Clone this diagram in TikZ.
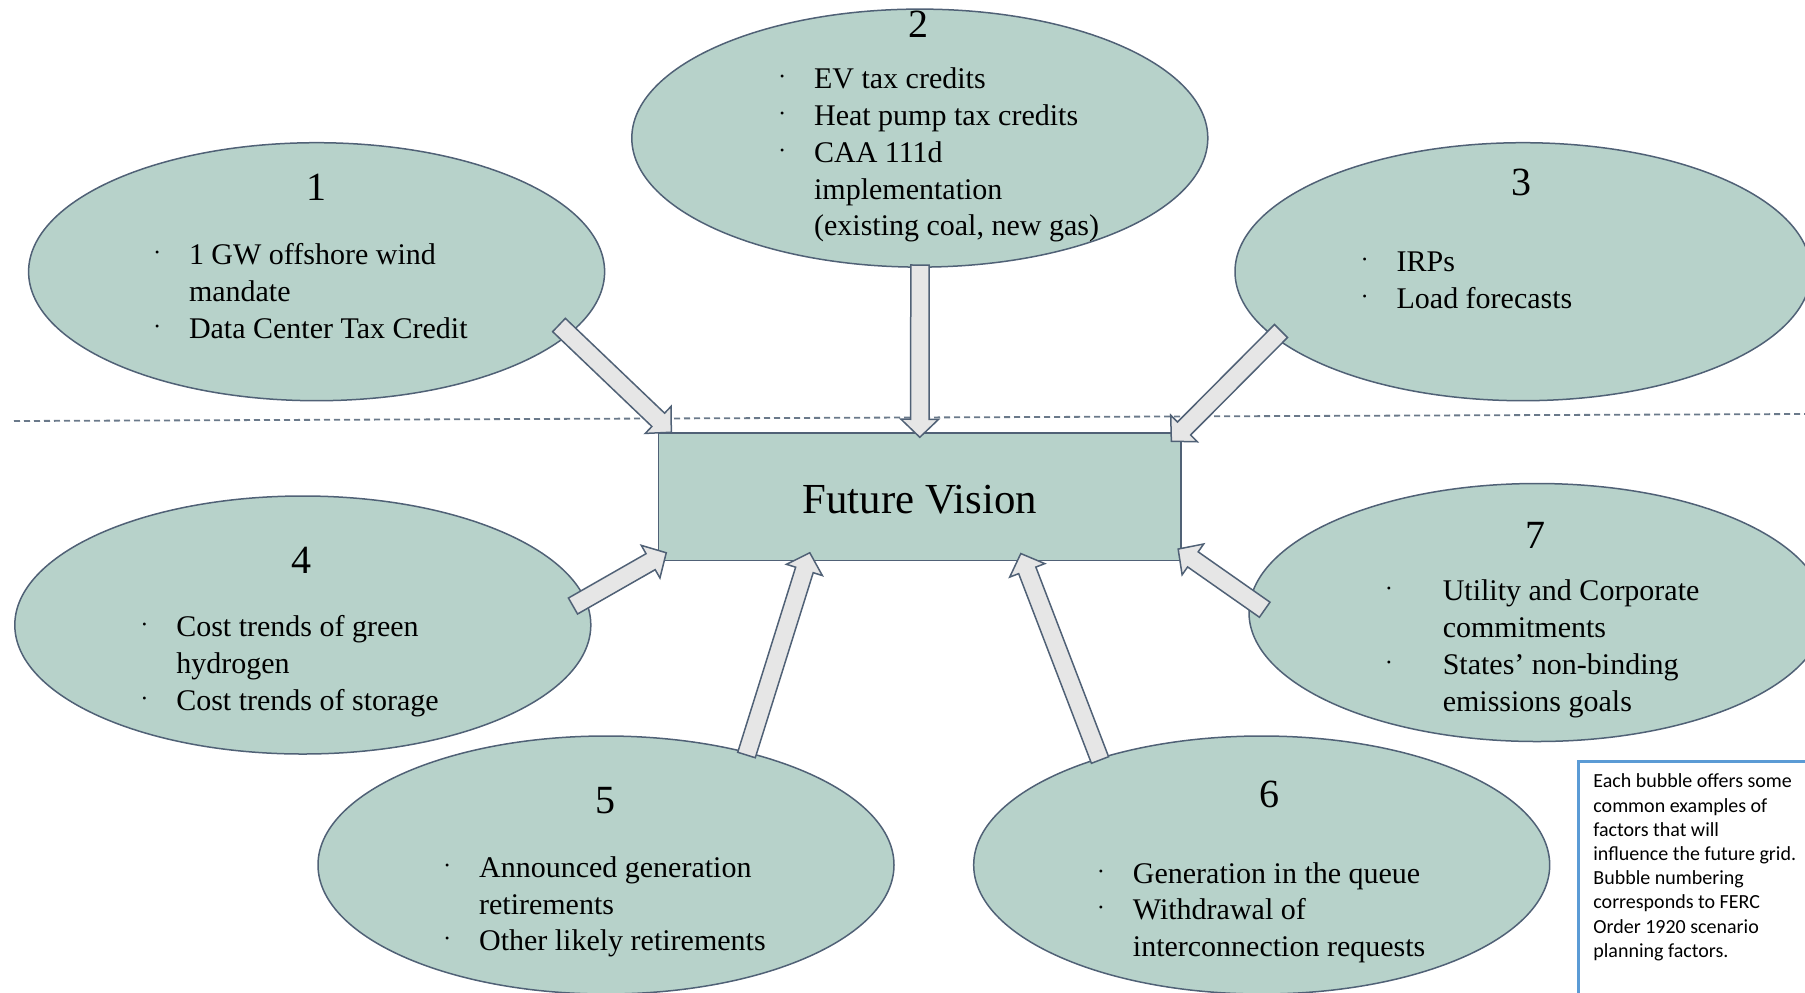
\documentclass[tikz,border=0pt]{standalone}
\usepackage{fontspec}
\setmainfont{Liberation Serif}
\newfontfamily\notefont{Carlito}
\usetikzlibrary{calc,shapes.geometric,positioning}

\definecolor{bubblegreen}{RGB}{183,210,202}
\definecolor{slateline}{RGB}{80,97,118}
\definecolor{arrowgray}{RGB}{230,230,230}
\definecolor{noteblue}{RGB}{91,155,213}

\newcommand{\fbul}[1][17pt]{\makebox[#1][l]{\raisebox{4pt}{\fontsize{6}{6}\selectfont\textbullet}}}

\newcommand{\blockarrow}[2]{%
  \path (#1) coordinate (ba) (#2) coordinate (bb);
  \coordinate (bn) at ($(bb)!9pt!(ba)$);
  \draw[flow] ($(ba)!4.6pt!90:(bb)$) -- ($(bn)!4.6pt!-90:(ba)$) -- ($(bn)!9.4pt!-90:(ba)$) -- (bb)
    -- ($(bn)!9.4pt!90:(ba)$) -- ($(bn)!4.6pt!90:(ba)$) -- ($(ba)!4.6pt!-90:(bb)$) -- cycle;}

\begin{document}
\begin{tikzpicture}[x=0.5pt,y=-0.5pt,
    bubble/.style={ellipse,draw=slateline,line width=0.75pt,fill=bubblegreen,
      minimum width=288pt,minimum height=129pt,inner sep=0pt},
    vision/.style={rectangle,draw=slateline,line width=0.75pt,fill=bubblegreen,
      minimum width=261.3pt,minimum height=63.8pt,inner sep=0pt,
      text height=16.8pt,text depth=0pt,font=\fontsize{21.4}{25}\selectfont},
    num/.style={anchor=base,inner sep=0pt,font=\fontsize{20}{24}\selectfont},
    factors/.style={anchor=west,inner sep=0pt,font=\fontsize{15}{18.4}\selectfont},
    flow/.style={draw=slateline,line width=0.75pt,fill=arrowgray},
    notebox/.style={rectangle,draw=noteblue,line width=1.3pt,fill=white,
      minimum width=300pt,minimum height=150pt,inner sep=0pt},
    notetext/.style={inner sep=0pt,align=left,font=\notefont\fontsize{10}{12.1}\selectfont}]
  \useasboundingbox (0,0) rectangle (1805,992);

  \draw[slateline!85,line width=0.9pt,dash pattern=on 3pt off 2pt] (14,421) -- (1805,414);

  \node[bubble] (e1) at (316.6,271.7) {};
  \node[bubble] (e2) at (919.8,138.1) {};
  \node[bubble] (e3) at (1523,271.7) {};
  \node[bubble] (e4) at (302.8,625) {};
  \node[bubble] (e5) at (606,865) {};
  \node[bubble] (e6) at (1261.7,865) {};
  \node[bubble] (e7) at (1537,612.5) {};

  \node[vision] (fv) at (919.8,496.8) {Future Vision};

  % numbers
  \node[num] (n1) at (316.6,200) {1};
  \node[num] (n2) at (918.7,37) {2};
  \node[num] (n3) at (1521.9,195.4) {3};
  \node[num] (n4) at (301.6,573) {4};
  \node[num] (n5) at (605.5,813.5) {5};
  \node[num] (n6) at (1269.8,807.8) {6};
  \node[num] (n7) at (1535.7,548.8) {7};

  % factor lists
  \node[factors] (t1) at (154.6,294.3) {\begin{tabular}{@{}l@{}l@{}}
    \fbul & 1 GW offshore wind\\ & mandate\\ \fbul & Data Center Tax Credit\end{tabular}};
  \node[factors] (t2) at (779.7,155) {\begin{tabular}{@{}l@{}l@{}}
    \fbul & EV tax credits\\ \fbul & Heat pump tax credits\\ \fbul & CAA 111d\\
    & implementation\\ & (existing coal, new gas)\end{tabular}};
  \node[factors] (t3) at (1362.2,282.7) {\begin{tabular}{@{}l@{}l@{}}
    \fbul & IRPs\\ \fbul & Load forecasts\end{tabular}};
  \node[factors] (t4) at (141.9,666.1) {\begin{tabular}{@{}l@{}l@{}}
    \fbul & Cost trends of green\\ & hydrogen\\ \fbul & Cost trends of storage\end{tabular}};
  \node[factors] (t5) at (444.7,906.7) {\begin{tabular}{@{}l@{}l@{}}
    \fbul & Announced generation\\ & retirements\\ \fbul & Other likely retirements\end{tabular}};
  \node[factors] (t6) at (1098.5,912.5) {\begin{tabular}{@{}l@{}l@{}}
    \fbul & Generation in the queue\\ \fbul & Withdrawal of\\ & interconnection requests\end{tabular}};
  \node[factors] (t7) at (1386.4,648.8) {\begin{tabular}{@{}l@{}l@{}}
    \fbul[28pt] & Utility and Corporate\\ & commitments\\ \fbul[28pt] & States’ non-binding\\
    & emissions goals\end{tabular}};

  % arrows into the vision box
  \coordinate (a1) at (559,325);
  \coordinate (a2) at (920,265);
  \coordinate (a3) at (1281,331);
  \coordinate (a4) at (573,606);
  \coordinate (a5) at (746.5,755);
  \coordinate (a6) at (1100,760);
  \coordinate (a7) at (1264.7,609.7);
  \blockarrow{a1}{$(fv.north west)+(13.5,0)$}
  \blockarrow{a2}{$(fv.north)+(0,5)$}
  \blockarrow{a3}{$(fv.north east)+(-10.5,9)$}
  \blockarrow{a4}{$(fv.south west)+(8.5,-8.6)$}
  \blockarrow{a5}{$(fv.south)+(-110,-8.6)$}
  \blockarrow{a6}{$(fv.south)+(101,-7.8)$}
  \blockarrow{a7}{$(fv.south east)+(-3.7,-12.3)$}

  \node[notebox,anchor=north west] (note) at (1577,760) {};
  \node[notetext,anchor=north west] (notetxt) at ($(note.north west)+(16,13.5)$)
    {Each bubble offers some\\ common examples of\\ factors that will\\
     influence the future grid.\\ Bubble numbering\\ corresponds to FERC\\
     Order 1920 scenario\\ planning factors.};
\end{tikzpicture}
\end{document}
